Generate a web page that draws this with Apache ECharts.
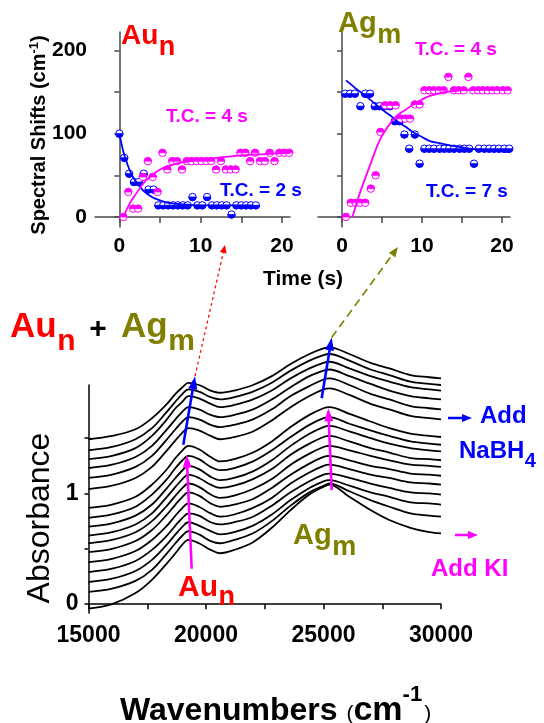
<!DOCTYPE html>
<html><head><meta charset="utf-8">
<script src="https://cdn.jsdelivr.net/npm/echarts@6/dist/echarts.min.js"></script>
<style>html,body{margin:0;padding:0;background:#fff}#c{width:544px;height:723px}</style>
</head><body><div id="c"></div>
<script>
// ---------- main spectra (Absorbance vs wavenumber) ----------
const wavenumbers = [15000,16000,17000,17700,18300,18700,19000,19250,19700,20200,20600,21200,22000,22800,23600,24400,25000,25250,26100,27000,27800,28700,29500,30000];
// after NaBH4 addition (upper group, top to bottom)
const nabh4_1 = [1.49,1.52,1.58,1.68,1.80,1.90,1.96,2.00,1.98,1.93,1.91,1.93,1.98,2.06,2.17,2.26,2.31,2.32,2.26,2.18,2.13,2.07,2.05,2.04];
const nabh4_2 = [1.39,1.42,1.49,1.59,1.73,1.83,1.90,1.94,1.92,1.87,1.85,1.87,1.92,2.00,2.11,2.20,2.25,2.26,2.20,2.12,2.07,2.01,1.99,1.98];
const nabh4_3 = [1.31,1.34,1.41,1.52,1.66,1.77,1.83,1.88,1.86,1.81,1.78,1.80,1.85,1.93,2.04,2.13,2.18,2.19,2.13,2.06,2.01,1.96,1.94,1.93];
const nabh4_4 = [1.23,1.26,1.33,1.43,1.57,1.67,1.74,1.78,1.76,1.71,1.69,1.71,1.76,1.85,1.96,2.06,2.11,2.12,2.06,1.99,1.93,1.88,1.86,1.85];
const nabh4_5 = [1.14,1.17,1.24,1.34,1.48,1.58,1.65,1.69,1.67,1.62,1.60,1.62,1.67,1.76,1.88,1.97,2.03,2.04,1.98,1.90,1.85,1.79,1.77,1.76];
const nabh4_6 = [1.04,1.07,1.14,1.24,1.38,1.48,1.55,1.59,1.57,1.52,1.49,1.51,1.56,1.66,1.78,1.88,1.94,1.95,1.89,1.81,1.76,1.70,1.68,1.67];
// after KI addition (lower group, top to bottom)
const ki_1  = [0.87,0.90,0.97,1.08,1.21,1.32,1.39,1.43,1.40,1.33,1.29,1.31,1.37,1.47,1.60,1.71,1.77,1.78,1.72,1.65,1.59,1.54,1.52,1.51];
const ki_2  = [0.78,0.81,0.88,0.99,1.12,1.23,1.30,1.34,1.31,1.24,1.21,1.23,1.29,1.39,1.51,1.62,1.68,1.69,1.63,1.57,1.52,1.47,1.45,1.44];
const ki_3  = [0.70,0.73,0.80,0.90,1.04,1.14,1.21,1.25,1.22,1.15,1.12,1.14,1.20,1.30,1.43,1.54,1.60,1.61,1.56,1.50,1.45,1.41,1.39,1.38];
const ki_4  = [0.62,0.65,0.72,0.82,0.96,1.06,1.13,1.17,1.14,1.08,1.05,1.07,1.13,1.22,1.35,1.45,1.51,1.52,1.47,1.41,1.37,1.32,1.31,1.30];
const ki_5  = [0.55,0.58,0.65,0.75,0.88,0.98,1.05,1.09,1.06,0.99,0.96,0.98,1.04,1.13,1.26,1.36,1.42,1.43,1.39,1.34,1.30,1.26,1.25,1.24];
const ki_6  = [0.47,0.50,0.57,0.67,0.80,0.90,0.97,1.01,0.98,0.91,0.88,0.90,0.95,1.05,1.17,1.27,1.33,1.34,1.30,1.25,1.22,1.18,1.17,1.16];
const ki_7  = [0.38,0.41,0.48,0.58,0.70,0.80,0.87,0.91,0.88,0.82,0.79,0.81,0.87,0.96,1.09,1.19,1.25,1.26,1.22,1.17,1.14,1.10,1.09,1.08];
const ki_8  = [0.29,0.32,0.39,0.49,0.61,0.71,0.78,0.82,0.80,0.74,0.72,0.74,0.79,0.89,1.01,1.11,1.17,1.18,1.14,1.09,1.05,1.01,1.00,0.99];
const ki_9  = [0.20,0.23,0.30,0.40,0.53,0.63,0.70,0.74,0.71,0.66,0.63,0.65,0.71,0.81,0.94,1.05,1.11,1.12,1.07,1.01,0.97,0.92,0.91,0.90];
const ki_10 = [0.11,0.14,0.21,0.31,0.45,0.55,0.62,0.66,0.63,0.57,0.55,0.58,0.64,0.75,0.89,1.01,1.07,1.09,1.02,0.94,0.88,0.82,0.80,0.79];
const ki_11 = [-0.04,0.00,0.10,0.22,0.36,0.46,0.54,0.58,0.55,0.49,0.46,0.49,0.56,0.69,0.85,0.99,1.06,1.08,0.97,0.85,0.76,0.69,0.65,0.64];
const spectra = [nabh4_1,nabh4_2,nabh4_3,nabh4_4,nabh4_5,nabh4_6,ki_1,ki_2,ki_3,ki_4,ki_5,ki_6,ki_7,ki_8,ki_9,ki_10,ki_11];

// arrows drawn in data space [wavenumber, absorbance]: [from, to]
const arrowAuNaBH4 = [[19034,1.44],[19532,2.06]];
const arrowAuKI    = [[19391,0.32],[19178,1.35]];
const arrowAgNaBH4 = [[24923,1.86],[25348,2.41]];
const arrowAgKI    = [[25348,1.03],[25203,1.77]];

// ---------- insets: spectral shifts vs time ----------
const auBlueT = [0,0.6,1.2,1.8,2.4,3.0,3.6,4.2,4.8,5.4,6.0,6.6,7.2,7.8,8.4,9.0,9.6,10.2,10.8,11.4,12.0,12.6,13.2,13.8,14.4,15.0,15.6,16.2,16.8];
const auBlueV = [100,71,52,42,42,52,33,33,14,14,14,14,14,14,14,24,14,14,24,14,14,14,14,3,14,14,14,14,14];
const auPinkT = [0.5,1.1,1.7,2.3,2.9,3.5,4.1,4.7,5.3,5.9,6.5,7.1,7.7,8.3,8.9,9.5,10.1,10.7,11.3,11.9,12.5,13.1,13.7,14.3,14.9,15.5,16.1,16.7,17.3,17.9,18.5,19.1,19.7,20.3,20.9];
const auPinkV = [0,30,10,10,48,67,48,30,77,57,67,67,57,67,67,67,67,67,67,57,67,57,57,57,77,77,67,77,67,67,77,67,77,77,77];
const auBlueFitT = [0,0.5,1,1.5,2,3,4,5,6,8,10,16.5];
const auBlueFitV = [100,78,63,51,43,31,24,20,17,15,14,14];
const auPinkFitT = [0.5,1,1.5,2,3,4,5,6,7,8,10,12,14,16,18,21];
const auPinkFitV = [0,11,20,27,41,50,57,61,64,66,69,71,73,74.5,75.5,77];

const agBlueT = [0.4,1.0,1.6,2.3,2.9,3.5,4.1,4.7,5.3,6.0,6.6,7.2,7.8,8.4,9.1,9.7,10.3,10.9,11.5,12.2,12.8,13.4,14.0,14.7,15.3,15.9,16.5,17.1,17.8,18.4,19.0,19.6,20.3,20.9];
const agBlueV = [148,148,148,133,148,148,133,133,133,133,115,115,99,82,99,64,82,82,82,82,82,82,82,82,82,82,64,82,82,82,82,82,82,82];
const agPinkT = [0.5,1.1,1.7,2.3,2.9,3.6,4.2,4.8,5.4,6.0,6.7,7.3,7.9,8.5,9.1,9.7,10.3,10.9,11.5,12.1,12.7,13.3,14.0,14.6,15.2,15.8,16.4,17.0,17.6,18.2,18.8,19.4,20.1,20.7];
const agPinkV = [0,17,17,17,17,34,50,102,134,134,134,118,118,118,135,135,152,152,152,152,152,168,152,152,152,168,152,152,152,152,152,152,152,152];
const agBlueFitT = [0.5,1,2,3,4,5,6,7,8,9,10,11,12,14,16,18,21];
const agBlueFitV = [164,160,152,145,137,129,122,114,108,101,96,91,89,85,82,80,78];
const agPinkFitT = [1.3,2,2.65,3.5,4.7,5.7,6.8,8,8.9,10,10.9,12,13,15,17,19,21];
const agPinkFitV = [0,22,40,62,92,108,121,129,135,141,145,148,150,152,153,153,153];

// tick / label positions
const mainXTicks = [15000,17500,20000,22500,25000,27500,30000];
const mainXLabels = [15000,20000,25000,30000];
const mainYTicks = [0,0.5,1,1.5];
const mainYLabels = [0,1];
const insetXTicks = [0,5,10,15,20];
const insetXLabels = [0,10,20];
const insetYTicks = [0,50,100,150,200];
const insetYLabels = [0,100,200];

// ---------- styling ----------
const FF = '"Liberation Sans", Arial, sans-serif';
const BLUE = '#0000ff', PINK = '#ff00ff', RED = '#ff0000', OLIVE = '#808000';
const zip = (a, b) => a.map((x, i) => [x, b[i]]);
const plain = v => String(v);
const mctx = document.createElement('canvas').getContext('2d');
function tw(text, font) { mctx.font = font; return mctx.measureText(text).width; }
const fnt = (size, weight) => (weight || 'bold') + ' ' + size + 'px ' + FF;

function halfDot(color, upper) {
  return function (params, api) {
    const p = api.coord([api.value(0), api.value(1)]);
    const r = 3.7;
    return {
      type: 'group',
      children: [
        {type: 'circle', shape: {cx: p[0], cy: p[1], r: r}, style: {fill: '#fff', stroke: color, lineWidth: 1}},
        {type: 'sector', shape: {cx: p[0], cy: p[1], r0: 0, r: r,
          startAngle: upper ? Math.PI : 0, endAngle: upper ? 2 * Math.PI : Math.PI, clockwise: true},
          style: {fill: color, stroke: color, lineWidth: 0.8}}
      ]
    };
  };
}

function insetAxes(idx, showYLabels) {
  const axisColor = '#4a4a4a';
  return {
    x: {type: 'value', gridIndex: idx, min: -3, max: 21,
      axisLine: {show: true, lineStyle: {color: axisColor, width: 1.5}},
      axisTick: {show: true, inside: false, length: 6, customValues: insetXTicks, lineStyle: {color: axisColor, width: 1.5}},
      axisLabel: {show: true, customValues: insetXLabels, formatter: plain, margin: 9, color: '#000', fontWeight: 'bold', fontSize: 21, fontFamily: FF},
      splitLine: {show: false}},
    y: {type: 'value', gridIndex: idx, min: -12, max: 222,
      axisLine: {show: true, lineStyle: {color: axisColor, width: 1.5}},
      axisTick: {show: true, inside: false, length: 5, customValues: insetYTicks, lineStyle: {color: axisColor, width: 1.5}},
      axisLabel: {show: showYLabels, customValues: insetYLabels, formatter: plain, margin: 8, color: '#000', fontWeight: 'bold', fontSize: 21, fontFamily: FF},
      splitLine: {show: false}}
  };
}
const inA = insetAxes(1, true), inB = insetAxes(2, false);

const series = [];
spectra.forEach(arr => {
  series.push({
    type: 'line', xAxisIndex: 0, yAxisIndex: 0, data: zip(wavenumbers, arr),
    showSymbol: false, smooth: 0.35, clip: false, silent: true,
    lineStyle: {color: '#000', width: 1.8}, z: 2
  });
});
series.push({type: 'custom', xAxisIndex: 1, yAxisIndex: 1, data: zip(auBlueT, auBlueV), renderItem: halfDot(BLUE, false), encode: {x: 0, y: 1}, silent: true, z: 3});
series.push({type: 'custom', xAxisIndex: 1, yAxisIndex: 1, data: zip(auPinkT, auPinkV), renderItem: halfDot(PINK, true), encode: {x: 0, y: 1}, silent: true, z: 3});
series.push({type: 'custom', xAxisIndex: 2, yAxisIndex: 2, data: zip(agBlueT, agBlueV), renderItem: halfDot(BLUE, false), encode: {x: 0, y: 1}, silent: true, z: 3});
series.push({type: 'custom', xAxisIndex: 2, yAxisIndex: 2, data: zip(agPinkT, agPinkV), renderItem: halfDot(PINK, true), encode: {x: 0, y: 1}, silent: true, z: 3});
const fit = (xi, t, v, c) => ({type: 'line', xAxisIndex: xi, yAxisIndex: xi, data: zip(t, v), showSymbol: false, smooth: 0.4, silent: true, lineStyle: {color: c, width: 1.8}, z: 4});
series.push(fit(1, auBlueFitT, auBlueFitV, BLUE));
series.push(fit(1, auPinkFitT, auPinkFitV, PINK));
series.push(fit(2, agBlueFitT, agBlueFitV, BLUE));
series.push(fit(2, agPinkFitT, agPinkFitV, PINK));

const option = {
  animation: false,
  backgroundColor: '#fff',
  grid: [
    {left: 88.5, top: 385, width: 352.5, height: 228, containLabel: false, outerBoundsMode: 'none'},
    {left: 95, top: 32, width: 195, height: 195, containLabel: false, outerBoundsMode: 'none'},
    {left: 318, top: 32, width: 192, height: 195, containLabel: false, outerBoundsMode: 'none'}
  ],
  xAxis: [
    {type: 'value', gridIndex: 0, min: 15000, max: 30000,
      axisLine: {show: true, lineStyle: {color: '#000', width: 1.5}},
      axisTick: {show: true, length: 5, customValues: mainXTicks, lineStyle: {color: '#000', width: 1.5}},
      axisLabel: {customValues: mainXLabels, formatter: plain, margin: 11, color: '#000', fontWeight: 'bold', fontSize: 23, fontFamily: FF},
      splitLine: {show: false}},
    inA.x, inB.x
  ],
  yAxis: [
    {type: 'value', gridIndex: 0, min: -0.08, max: 1.98,
      axisLine: {show: true, lineStyle: {color: '#000', width: 1.5}},
      axisTick: {show: true, length: 4, customValues: mainYTicks, lineStyle: {color: '#000', width: 1.5}},
      axisLabel: {customValues: mainYLabels, formatter: plain, margin: 10, color: '#000', fontWeight: 'bold', fontSize: 23, fontFamily: FF},
      splitLine: {show: false}},
    inA.y, inB.y
  ],
  series: series
};
const chart = echarts.init(document.getElementById('c'), null, {renderer: 'canvas'});
chart.setOption(option);

// ---------- annotations ----------
function txt(x, y, text, size, color, weight, align) {
  return {type: 'text', x: x, y: y, silent: true, z: 10,
    style: {text: text, font: fnt(size, weight), fill: color || '#000',
      textAlign: align || 'left', textVerticalAlign: 'middle'}};
}
function subTxt(x, y, main, sub, size, subSize, color, dy) {
  const w = tw(main, fnt(size));
  return [txt(x, y, main, size, color), txt(x + w + 0.5, y + dy, sub, subSize, color)];
}
function head(tip, from, len, half, color) {
  const dx = tip[0] - from[0], dy = tip[1] - from[1], L = Math.hypot(dx, dy);
  const ux = dx / L, uy = dy / L, bx = tip[0] - ux * len, by = tip[1] - uy * len;
  return {type: 'polygon', silent: true, z: 11, shape: {points: [tip, [bx - uy * half, by + ux * half], [bx + uy * half, by - ux * half]]}, style: {fill: color}};
}
function arrow(from, to, color, width, len, half, dash) {
  const dx = to[0] - from[0], dy = to[1] - from[1], L = Math.hypot(dx, dy);
  const end = [to[0] - dx / L * (len - 1), to[1] - dy / L * (len - 1)];
  const st = {stroke: color, lineWidth: width};
  if (dash) st.lineDash = dash;
  return [{type: 'line', silent: true, z: 10, shape: {x1: from[0], y1: from[1], x2: end[0], y2: end[1]}, style: st},
          head(to, from, len, half, color)];
}
const toPx = c => chart.convertToPixel({gridIndex: 0}, c);
const auTip = toPx(arrowAuNaBH4[1]), agTip = toPx(arrowAgNaBH4[1]);

const graphics = [].concat(
  // in-plot arrows from data coordinates
  arrow(toPx(arrowAuNaBH4[0]), auTip, BLUE, 2.6, 13, 4.5),
  arrow(toPx(arrowAuKI[0]), toPx(arrowAuKI[1]), PINK, 2.6, 13, 4.5),
  arrow(toPx(arrowAgNaBH4[0]), agTip, BLUE, 2.6, 13, 4.5),
  arrow(toPx(arrowAgKI[0]), toPx(arrowAgKI[1]), PINK, 2.6, 13, 4.5),
  // dashed connectors to the insets
  arrow(auTip, [225, 245], RED, 1.2, 8, 3.5, [3, 3]),
  arrow(agTip, [398, 247], OLIVE, 1.6, 10, 4, [8, 5]),
  // main title
  subTxt(10, 327, 'Au', 'n', 35, 30, RED, 14.5),
  [txt(98, 330, '+', 30, '#000', 'bold', 'center')],
  subTxt(121, 327, 'Ag', 'm', 35, 30, OLIVE, 14.5),
  // inset titles
  subTxt(121, 36, 'Au', 'n', 28, 27, RED, 12),
  subTxt(338, 23.5, 'Ag', 'm', 29, 27, OLIVE, 12.5),
  // T.C. labels
  [txt(166, 117, 'T.C. = 4 s', 19, PINK), txt(220, 191, 'T.C. = 2 s', 19, BLUE),
   txt(415, 50, 'T.C. = 4 s', 19, PINK), txt(426, 192, 'T.C. = 7 s', 19, BLUE),
   txt(303, 279, 'Time (s)', 21, '#000', 'bold', 'center')],
  // main in-plot labels
  subTxt(293, 536, 'Ag', 'm', 29, 27, OLIVE, 12),
  subTxt(178, 587.5, 'Au', 'n', 30, 27, RED, 10.5),
  // right side annotations
  [txt(480, 416.5, 'Add', 24, BLUE)],
  subTxt(459, 451.5, 'NaBH', '4', 24, 20, BLUE, 9.5),
  [txt(431, 569.5, 'Add KI', 24, PINK)],
  arrow([448, 418], [472, 418], BLUE, 2.5, 10, 4),
  arrow([455, 535], [478, 535], PINK, 2.5, 10, 4),
  // axis titles
  [{type: 'text', x: 39, y: 135, rotation: Math.PI / 2, silent: true, z: 10,
    style: {text: '{a|Spectral Shifts (cm}{b|-1}{a|)}', textAlign: 'center', textVerticalAlign: 'middle',
      rich: {a: {fontSize: 20, fontWeight: 'bold', fontFamily: FF, fill: '#000', lineHeight: 22},
             b: {fontSize: 13, fontWeight: 'bold', fontFamily: FF, fill: '#000', verticalAlign: 'top', lineHeight: 22}}}},
   {type: 'text', x: 40, y: 518, rotation: Math.PI / 2, silent: true, z: 10,
    style: {text: 'Absorbance', font: fnt(32, 'normal'), fill: '#000', textAlign: 'center', textVerticalAlign: 'middle'}}]
);
// bottom axis title chained by measured widths
(function () {
  let x = 120;
  const parts = [['Wavenumbers ', 32, 'bold', 711], ['(', 21, 'normal', 714], ['cm', 34, 'bold', 711], ['-1', 22, 'bold', 695], [')', 21, 'normal', 714]];
  parts.forEach(p => {
    graphics.push(txt(x, p[3], p[0], p[1], '#000', p[2]));
    x += tw(p[0], fnt(p[1], p[2])) + (p[0] === '-1' ? 2 : 0);
  });
})();
chart.setOption({graphic: graphics});
</script></body></html>
